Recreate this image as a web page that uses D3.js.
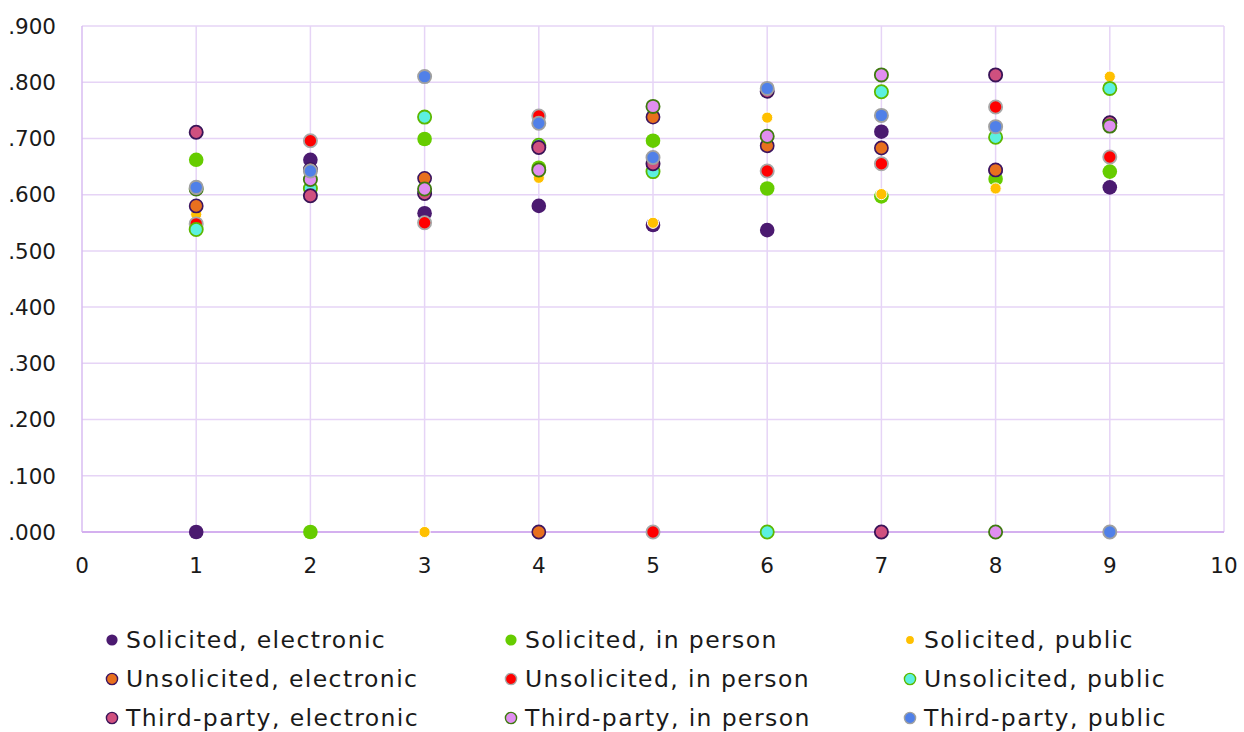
<!DOCTYPE html>
<html><head><meta charset="utf-8">
<script src="https://cdn.jsdelivr.net/npm/d3@7"></script>
<style>html,body{margin:0;padding:0;background:#fff;}svg{display:block;}</style>
</head><body>
<svg id="chart" width="1244" height="732"></svg>
<script>
const xValues = [1,2,3,4,5,6,7,8,9];
const seriesNames = ["Solicited, electronic","Solicited, in person","Solicited, public",
  "Unsolicited, electronic","Unsolicited, in person","Unsolicited, public",
  "Third-party, electronic","Third-party, in person","Third-party, public"];
const solicitedElectronic   = [0.000,0.662,0.567,0.580,0.546,0.537,0.712,0.643,0.613];
const solicitedInPerson     = [0.662,0.000,0.699,0.648,0.696,0.611,0.597,0.628,0.641];
const solicitedPublic       = [0.565,0.698,0.000,0.630,0.550,0.737,0.601,0.611,0.810];
const unsolicitedElectronic = [0.580,0.645,0.629,0.000,0.738,0.687,0.683,0.644,0.727];
const unsolicitedInPerson   = [0.548,0.696,0.550,0.740,0.000,0.642,0.655,0.756,0.667];
const unsolicitedPublic     = [0.538,0.611,0.738,0.688,0.641,0.000,0.783,0.702,0.789];
const thirdPartyElectronic  = [0.711,0.598,0.602,0.684,0.655,0.784,0.000,0.813,0.728];
const thirdPartyInPerson    = [0.610,0.627,0.610,0.644,0.757,0.704,0.813,0.000,0.722];
const thirdPartyPublic      = [0.613,0.642,0.810,0.727,0.666,0.789,0.741,0.721,0.000];
const xTicks = [0,1,2,3,4,5,6,7,8,9,10];
const yTicks = [0,0.1,0.2,0.3,0.4,0.5,0.6,0.7,0.8,0.9];

const seriesValues = [solicitedElectronic,solicitedInPerson,solicitedPublic,
  unsolicitedElectronic,unsolicitedInPerson,unsolicitedPublic,
  thirdPartyElectronic,thirdPartyInPerson,thirdPartyPublic];
const styles = [
  {fill:"#4b1a70", stroke:"#4b1a70", r:7.3, sw:0},
  {fill:"#66cc00", stroke:"#66cc00", r:7.3, sw:0},
  {fill:"#ffc000", stroke:"#ffffff", r:5.6, sw:1},
  {fill:"#e8701e", stroke:"#3c1560", r:6.6, sw:1.6},
  {fill:"#ff0000", stroke:"#a8a8a8", r:6.6, sw:1.8},
  {fill:"#5cf0e0", stroke:"#5cb800", r:6.6, sw:1.8},
  {fill:"#d0507f", stroke:"#3a1458", r:6.6, sw:1.8},
  {fill:"#e08ef0", stroke:"#3f7a10", r:6.6, sw:1.8},
  {fill:"#5080e8", stroke:"#a0a0a0", r:6.6, sw:1.8}
];

const svg = d3.select("#chart");
const L=82, R=1224, T=26, B=532;
const x = d3.scaleLinear().domain([0,10]).range([L,R]);
const y = d3.scaleLinear().domain([0,0.9]).range([B,T]);
const font = "'DejaVu Sans', sans-serif";

// gridlines
svg.append("g").selectAll("line").data(yTicks.filter(d=>d>0)).join("line")
  .attr("x1",L).attr("x2",R).attr("y1",d=>y(d)).attr("y2",d=>y(d))
  .attr("stroke","#e6d4f6").attr("stroke-width",1.5);
svg.append("g").selectAll("line").data(xTicks.filter(d=>d>0)).join("line")
  .attr("x1",d=>x(d)).attr("x2",d=>x(d)).attr("y1",T).attr("y2",B)
  .attr("stroke","#e6d4f6").attr("stroke-width",1.5);
svg.append("line").attr("x1",L).attr("x2",L).attr("y1",T).attr("y2",B)
  .attr("stroke","#d9bdf2").attr("stroke-width",1.5);
svg.append("line").attr("x1",L).attr("x2",R).attr("y1",B).attr("y2",B)
  .attr("stroke","#d4b0ef").attr("stroke-width",2);

// tick labels
svg.append("g").selectAll("text").data(yTicks).join("text")
  .attr("x",56).attr("y",d=>y(d)).attr("dy","0.36em").attr("text-anchor","end")
  .attr("font-family",font).attr("font-size",21.5).attr("fill","#1a1a1a")
  .text(d=>d3.format(".3f")(d).replace(/^0/,""));
svg.append("g").selectAll("text").data(xTicks).join("text")
  .attr("x",d=>x(d)).attr("y",565).attr("dy","0.36em").attr("text-anchor","middle")
  .attr("font-family",font).attr("font-size",21.5).attr("fill","#1a1a1a")
  .text(d=>d);

// points
seriesValues.forEach((vals,i)=>{
  const s = styles[i];
  svg.append("g").selectAll("circle").data(vals).join("circle")
    .attr("cx",(d,j)=>x(xValues[j])).attr("cy",d=>y(d)).attr("r",s.r)
    .attr("fill",s.fill).attr("stroke",s.stroke).attr("stroke-width",s.sw);
});

// legend
const legX=[112,511,910], legY=[640,679,718];
seriesNames.forEach((name,i)=>{
  const s = styles[i];
  const cx = legX[i%3], cy = legY[Math.floor(i/3)];
  const g = svg.append("g");
  g.append("circle").attr("cx",cx).attr("cy",cy).attr("r", i===2?4.6:5.6)
    .attr("fill",s.fill).attr("stroke",s.stroke).attr("stroke-width",s.sw?1.4:0);
  g.append("text").attr("x",cx+14).attr("y",cy).attr("dy","0.36em")
    .attr("font-family",font).attr("font-size",23.5).attr("letter-spacing",1.4)
    .attr("fill","#1a1a1a").text(name);
});
</script>
</body></html>
